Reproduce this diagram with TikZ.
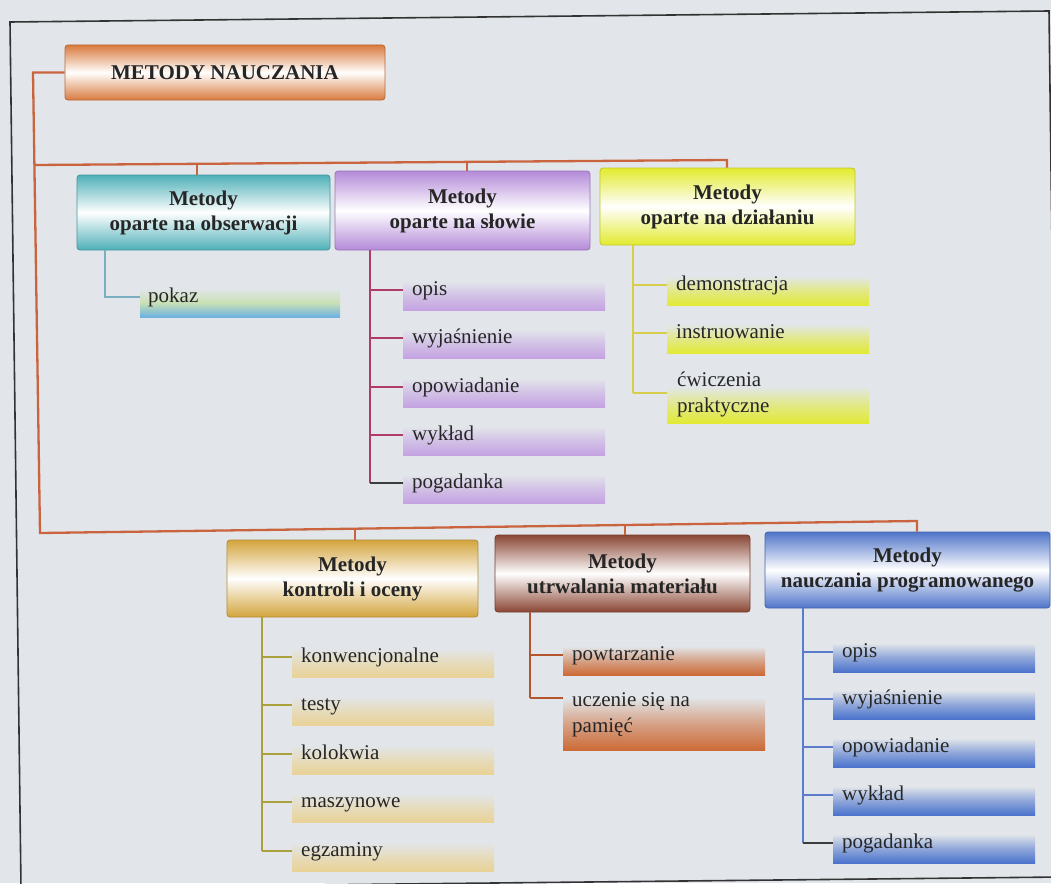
\documentclass[tikz,border=0pt]{standalone}
\usepackage{fontspec}
\setmainfont{Liberation Serif}
\usetikzlibrary{calc}
\definecolor{bgc}{HTML}{E2E6EA}
\definecolor{txt}{HTML}{262626}
\definecolor{framec}{HTML}{333333}
\definecolor{busc}{HTML}{C9643F}
\definecolor{orc}{HTML}{D97A3E}
\definecolor{cyanH}{HTML}{4FB0B8}
\definecolor{cyanT}{HTML}{7AAFC0}
\definecolor{cyanB}{HTML}{6BB1E2}
\definecolor{cyanM}{HTML}{C9E0B4}
\definecolor{prpH}{HTML}{B48AD8}
\definecolor{prpB}{HTML}{C4A2E2}
\definecolor{prpT}{HTML}{B03A6A}
\definecolor{yelH}{HTML}{E2EA2E}
\definecolor{yelB}{HTML}{E2EA34}
\definecolor{yelT}{HTML}{D6CE4C}
\definecolor{gldH}{HTML}{D3A43C}
\definecolor{gldB}{HTML}{E9D296}
\definecolor{gldT}{HTML}{A9A23C}
\definecolor{brnH}{HTML}{8A4634}
\definecolor{brnB}{HTML}{CC6A36}
\definecolor{brnT}{HTML}{B5552D}
\definecolor{bluH}{HTML}{4F74C9}
\definecolor{bluB}{HTML}{4A72CC}
\definecolor{bluT}{HTML}{5B7CCB}
\definecolor{lastc}{HTML}{3C3C3C}
\tikzset{
  hdr/.style={draw=#1!85!black, line width=0.8pt, top color=#1, bottom color=#1, middle color=white,
    rounded corners=3pt, inner sep=0pt, align=center,
    font=\fontsize{21}{25}\selectfont\bfseries, text=txt},
  bar/.style={shading=axis, top color=bgc, bottom color=#1, middle color=#1!55!bgc,
    minimum width=202pt, minimum height=29pt, inner sep=0pt, anchor=north west},
  itext/.style={font=\fontsize{21}{26}\selectfont, text=txt, inner sep=0pt, anchor=base west},
  bus/.style={draw=busc, line width=2.3pt},
  twig/.style={draw=#1, line width=2.1pt},
}
\newcommand\baritem[5]{%
  \node[bar=#2] (#1) at (#3,#4-9) {};
  \coordinate (#1c) at (#3,#4);
  \node[itext] (#1t) at (#3+9,#4+5) {#5};
}
\begin{document}
\begin{tikzpicture}[x=1pt,y=-1pt]
\useasboundingbox (0,0) rectangle (1051,883);
\fill[bgc] (0,0) rectangle (1051,883);
% frame
\draw[framec, line width=1.6pt] (10,22) -- (1049,11) -- (1060,877) -- (21,888) -- cycle;

% header boxes
\node[hdr=orc, minimum width=320pt, minimum height=55pt] (main) at (225,72.5) {METODY NAUCZANIA};
\node[hdr=cyanH, minimum width=253pt, minimum height=75pt] (obs) at (203.5,212.5) {Metody\\oparte na obserwacji};
\node[hdr=prpH, minimum width=255pt, minimum height=79pt] (slo) at (462.5,210.5) {Metody\\oparte na słowie};
\node[hdr=yelH, minimum width=255pt, minimum height=77pt] (dzi) at (727.5,206.5) {Metody\\oparte na działaniu};
\node[hdr=gldH, minimum width=251pt, minimum height=77pt] (kon) at (352.5,578.5) {Metody\\kontroli i oceny};
\node[hdr=brnH, minimum width=255pt, minimum height=77pt] (utr) at (622.5,573.5) {Metody\\utrwalania materiału};
\node[hdr=bluH, minimum width=285pt, minimum height=76pt] (pro) at (907.5,570) {Metody\\nauczania programowanego};

% buses
\coordinate (lt) at (33,72.5);
\coordinate (lb) at (40,533);
\coordinate (tl) at (34.4,165);
\coordinate (tr) at (727,160);
\coordinate (d1) at (197,163.8);
\coordinate (d2) at (467,161.9);
\coordinate (br) at (917,521);
\coordinate (e1) at (355,528.7);
\coordinate (e2) at (625,525);
\draw[bus] (main.west) -- (lt) -- (lb) -- (br) -- (br |- pro.north);
\draw[bus] (tl) -- (tr) -- (tr |- dzi.north);
\draw[bus] (d1) -- (d1 |- obs.north);
\draw[bus] (d2) -- (d2 |- slo.north);
\draw[bus] (e1) -- (e1 |- kon.north);
\draw[bus] (e2) -- (e2 |- utr.north);

% obserwacja
\node[bar=cyanB, middle color=cyanM, minimum width=200pt] (c1) at (140,288) {};
\coordinate (c1c) at (140,297);
\node[itext] (c1t) at (148,302) {pokaz};
\coordinate (ctr) at (105,0);
\draw[twig=cyanT] (ctr |- obs.south) |- (c1c);

% slowo
\baritem{p1}{prpB}{403}{290}{opis}
\baritem{p2}{prpB}{403}{338}{wyjaśnienie}
\baritem{p3}{prpB}{403}{387}{opowiadanie}
\baritem{p4}{prpB}{403}{435}{wykład}
\baritem{p5}{prpB}{403}{483}{pogadanka}
\coordinate (ptr) at (370,0);
\draw[twig=prpT] (ptr |- slo.south) -- (ptr |- p5c);
\foreach \i in {1,...,4} \draw[twig=prpT] (ptr |- p\i c) -- (p\i c);
\draw[twig=lastc] (ptr |- p5c) -- (p5c);

% dzialanie
\baritem{y1}{yelB}{667}{285}{demonstracja}
\baritem{y2}{yelB}{667}{333}{instruowanie}
\node[bar=yelB, minimum height=37pt] (y3) at (667,386) {};
\coordinate (y3c) at (667,393);
\node[itext] (y3t) at (677,386) {\begin{tabular}[t]{@{}l@{}}ćwiczenia\\praktyczne\end{tabular}};
\coordinate (ytr) at (633,0);
\draw[twig=yelT] (ytr |- dzi.south) -- (ytr |- y3c);
\foreach \i in {1,2,3} \draw[twig=yelT] (ytr |- y\i c) -- (y\i c);

% kontrola
\baritem{g1}{gldB}{292}{657}{konwencjonalne}
\baritem{g2}{gldB}{292}{705}{testy}
\baritem{g3}{gldB}{292}{754}{kolokwia}
\baritem{g4}{gldB}{292}{802}{maszynowe}
\baritem{g5}{gldB}{292}{851}{egzaminy}
\coordinate (gtr) at (262,0);
\draw[twig=gldT] (gtr |- kon.south) -- (gtr |- g5c);
\foreach \i in {1,...,5} \draw[twig=gldT] (gtr |- g\i c) -- (g\i c);

% utrwalanie
\baritem{b1}{brnB}{563}{655}{powtarzanie}
\node[bar=brnB, minimum height=53pt] (b2) at (563,697) {};
\coordinate (b2c) at (563,698);
\node[itext] (b2t) at (572,706) {\begin{tabular}[t]{@{}l@{}}uczenie się na\\pamięć\end{tabular}};
\coordinate (btr) at (530,0);
\draw[twig=brnT] (btr |- utr.south) -- (btr |- b2c);
\foreach \i in {1,2} \draw[twig=brnT] (btr |- b\i c) -- (b\i c);

% programowane
\baritem{u1}{bluB}{833}{652}{opis}
\baritem{u2}{bluB}{833}{699}{wyjaśnienie}
\baritem{u3}{bluB}{833}{747}{opowiadanie}
\baritem{u4}{bluB}{833}{795}{wykład}
\baritem{u5}{bluB}{833}{843}{pogadanka}
\coordinate (utr2) at (803,0);
\draw[twig=bluT] (utr2 |- pro.south) -- (utr2 |- u5c);
\foreach \i in {1,...,4} \draw[twig=bluT] (utr2 |- u\i c) -- (u\i c);
\draw[twig=lastc] (utr2 |- u5c) -- (u5c);
\end{tikzpicture}
\end{document}
